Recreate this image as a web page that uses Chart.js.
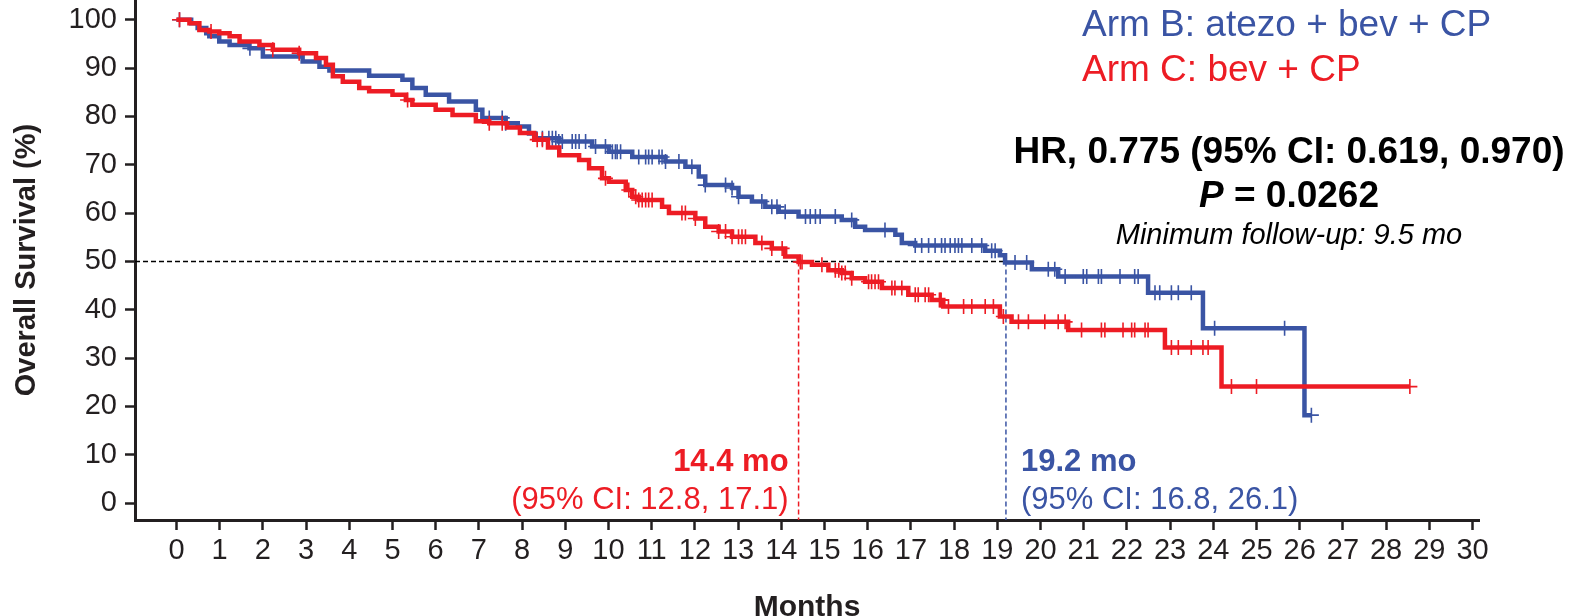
<!DOCTYPE html>
<html>
<head>
<meta charset="utf-8">
<script src="https://cdn.jsdelivr.net/npm/chart.js@4.4.0/dist/chart.umd.min.js"></script>
<style>
  html, body { margin: 0; padding: 0; background: #fff; }
  #wrap { width: 1570px; height: 616px; position: relative; }
</style>
</head>
<body>
<div id="wrap"><canvas id="chart"></canvas></div>
<script>
// Arm B: atezo + bev + CP -- event times (months) and survival (%) after each drop
const armBTimes = [0, 0.34, 0.49, 0.69, 0.76, 0.99, 1.23, 1.69, 2.0, 2.92, 3.31, 3.54, 4.46, 5.23, 5.46, 5.77, 6.31, 6.93, 7.08, 7.62, 7.9, 8.16, 8.31, 8.85, 9.62, 10.01, 10.55, 11.32, 11.78, 12.09, 12.24, 12.86, 13.01, 13.32, 13.63, 13.94, 14.4, 15.4, 15.71, 15.94, 16.64, 16.79, 17.1, 18.72, 19.06, 19.18, 19.8, 20.41, 22.49, 23.76, 26.11];
const armBSurv = [100, 99.3, 98.3, 97.2, 96.6, 95.5, 94.8, 94.1, 92.4, 91.4, 90.3, 89.5, 88.4, 87.6, 85.9, 84.5, 83.1, 81.4, 79.7, 78.6, 77.9, 76.5, 75.5, 74.8, 73.8, 72.7, 71.6, 70.7, 69.6, 67.6, 65.8, 65.2, 63.4, 62.4, 61.3, 60.3, 59.3, 58.6, 57.2, 56.5, 55.5, 53.8, 53.3, 52.2, 51.3, 49.8, 48.4, 46.9, 43.5, 36.2, 18.2];
const armBCensor = [0.07, 1.7, 7.24, 7.54, 7.62, 8.47, 8.62, 8.7, 8.78, 8.85, 8.93, 9.16, 9.24, 9.32, 9.47, 9.7, 9.93, 10.09, 10.16, 10.2, 10.28, 10.7, 10.86, 10.93, 11.01, 11.17, 11.24, 11.32, 11.63, 11.93, 12.24, 12.71, 12.86, 13.01, 13.55, 13.78, 13.9, 14.09, 14.56, 14.67, 14.79, 14.9, 15.25, 15.63, 16.4, 17.1, 17.25, 17.41, 17.56, 17.71, 17.79, 17.91, 18.02, 18.1, 18.18, 18.41, 18.64, 18.87, 18.95, 19.41, 19.68, 20.18, 20.33, 20.57, 20.99, 21.07, 21.34, 21.41, 21.84, 22.18, 22.26, 22.65, 22.76, 23.03, 23.19, 23.49, 24.03, 25.65, 26.27];

// Arm C: bev + CP
const armCTimes = [0, 0.3, 0.53, 0.76, 0.99, 1.23, 1.46, 1.92, 2.23, 2.84, 3.23, 3.46, 3.62, 3.85, 4.23, 4.46, 5.0, 5.31, 5.46, 6.0, 6.39, 6.93, 7.24, 7.65, 7.95, 8.28, 8.6, 8.86, 9.32, 9.55, 9.85, 10.01, 10.4, 10.55, 10.7, 11.24, 11.4, 12.01, 12.24, 12.55, 12.86, 13.4, 13.78, 14.09, 14.4, 14.71, 15.09, 15.4, 15.63, 15.94, 16.33, 16.94, 17.48, 17.75, 19.06, 19.33, 20.64, 22.88, 24.19];
const armCSurv = [100, 99.3, 97.9, 97.6, 97.2, 96.6, 95.5, 94.8, 93.8, 93.1, 92.1, 90.7, 88.3, 87.2, 85.9, 85.2, 84.5, 83.4, 82.4, 81.4, 80.3, 79.0, 78.6, 77.7, 76.6, 75.2, 73.6, 72.0, 71.0, 69.3, 67.2, 66.5, 64.8, 63.4, 62.7, 61.3, 60.0, 58.9, 57.2, 56.2, 55.1, 53.8, 52.7, 51.0, 49.9, 49.3, 48.2, 47.6, 46.5, 45.8, 44.5, 43.1, 42.0, 40.7, 38.6, 37.5, 35.8, 32.2, 24.1];
const armCCensor = [0.07, 0.8, 2.23, 2.84, 5.35, 7.24, 7.54, 8.35, 8.47, 9.93, 10.47, 10.63, 10.7, 10.78, 10.86, 10.93, 11.01, 11.7, 11.78, 12.01, 12.55, 12.71, 12.86, 13.01, 13.09, 13.17, 13.55, 13.78, 14.02, 14.44, 14.48, 14.94, 15.25, 15.33, 15.4, 15.48, 15.63, 16.02, 16.09, 16.17, 16.25, 16.56, 16.63, 16.79, 17.1, 17.17, 17.33, 17.41, 17.66, 17.68, 17.7, 17.87, 18.22, 18.41, 18.72, 18.91, 19.14, 19.49, 19.72, 20.1, 20.41, 20.57, 20.95, 21.41, 21.49, 21.91, 22.11, 22.18, 22.42, 22.49, 23.03, 23.19, 23.49, 23.76, 23.88, 24.42, 25.0, 28.55];

const medianB = 19.2;
const medianC = 14.4;
const ciB = '(95% CI: 16.8, 26.1)';
const ciC = '(95% CI: 12.8, 17.1)';
const hrText = 'HR, 0.775 (95% CI: 0.619, 0.970)';
const pValue = '0.0262';
const followUp = 'Minimum follow-up: 9.5 mo';
const armBLabel = 'Arm B: atezo + bev + CP';
const armCLabel = 'Arm C: bev + CP';

const BLUE = '#3a54a4';
const RED = '#ed1c24';
const INK = '#231f20';
const FAMILY = "'Liberation Sans', Arial, sans-serif";
const X_MIN = -0.96, X_MAX = 30.15, Y_MIN = -3.5, Y_MAX = 104.1;

Chart.defaults.font.family = FAMILY;
Chart.defaults.color = INK;

// survival value of a step curve at time t
function survivalAt(times, surv, t) {
  let v = surv[0];
  for (let i = 0; i < times.length; i++) {
    if (times[i] <= t) v = surv[i];
  }
  return v;
}

function stepPoints(times, surv, censor) {
  const pts = times.map((t, i) => ({x: t, y: surv[i]}));
  const last = censor[censor.length - 1];
  if (last > times[times.length - 1]) pts.push({x: last, y: surv[surv.length - 1]});
  return pts;
}

function censorPoints(times, surv, censor) {
  return censor.map(t => ({x: t, y: survivalAt(times, surv, t)}));
}

const curveStyle = (color) => ({
  showLine: true,
  stepped: 'before',
  borderColor: color,
  borderWidth: 4.5,
  pointRadius: 0,
  fill: false
});

const censorStyle = (color) => ({
  showLine: false,
  pointStyle: 'cross',
  pointRadius: 7.5,
  pointBorderWidth: 1.6,
  pointBorderColor: color,
  pointBackgroundColor: color
});

const dashStyle = (color) => ({
  showLine: true,
  borderColor: color,
  borderWidth: 1.5,
  borderDash: [5, 3],
  pointRadius: 0,
  fill: false
});

const textPlugin = {
  id: 'kmText',
  afterDraw(chart) {
    const {ctx, scales: {x}} = chart;
    ctx.save();
    ctx.textBaseline = 'alphabetic';

    // arm labels
    ctx.textAlign = 'left';
    ctx.font = `37px ${FAMILY}`;
    ctx.fillStyle = BLUE;
    ctx.fillText(armBLabel, 1082, 36);
    ctx.fillStyle = RED;
    ctx.fillText(armCLabel, 1082, 81);

    // HR / P block, centred on the HR line
    const cx = 1289;
    ctx.fillStyle = '#000';
    ctx.textAlign = 'center';
    ctx.font = `bold 37px ${FAMILY}`;
    ctx.fillText(hrText, cx, 163);

    ctx.textAlign = 'left';
    const pPart = 'P';
    const rest = ' = ' + pValue;
    ctx.font = `italic bold 37px ${FAMILY}`;
    const wP = ctx.measureText(pPart).width;
    ctx.font = `bold 37px ${FAMILY}`;
    const wR = ctx.measureText(rest).width;
    const pStart = cx - (wP + wR) / 2;
    ctx.font = `italic bold 37px ${FAMILY}`;
    ctx.fillText(pPart, pStart, 207);
    ctx.font = `bold 37px ${FAMILY}`;
    ctx.fillText(rest, pStart + wP, 207);

    ctx.textAlign = 'center';
    ctx.font = `italic 29px ${FAMILY}`;
    ctx.fillText(followUp, cx, 244);

    // medians
    const xc = x.getPixelForValue(medianC);
    const xb = x.getPixelForValue(medianB);
    ctx.fillStyle = RED;
    ctx.textAlign = 'right';
    ctx.font = `bold 31px ${FAMILY}`;
    ctx.fillText(medianC + ' mo', xc - 10, 471);
    ctx.font = `31px ${FAMILY}`;
    ctx.fillText(ciC, xc - 10, 509);

    ctx.fillStyle = BLUE;
    ctx.textAlign = 'left';
    ctx.font = `bold 31px ${FAMILY}`;
    ctx.fillText(medianB + ' mo', xb + 15, 471);
    ctx.font = `31px ${FAMILY}`;
    ctx.fillText(ciB, xb + 15, 509);

    ctx.restore();
  }
};

const datasets = [
  Object.assign({label: 'Arm C censored', data: censorPoints(armCTimes, armCSurv, armCCensor), order: 1}, censorStyle(RED)),
  Object.assign({label: 'Arm C', data: stepPoints(armCTimes, armCSurv, armCCensor), order: 2}, curveStyle(RED)),
  Object.assign({label: 'Arm B censored', data: censorPoints(armBTimes, armBSurv, armBCensor), order: 3}, censorStyle(BLUE)),
  Object.assign({label: 'Arm B', data: stepPoints(armBTimes, armBSurv, armBCensor), order: 4}, curveStyle(BLUE)),
  Object.assign({label: '50%', data: [{x: X_MIN, y: 50}, {x: medianB, y: 50}], order: 5}, dashStyle('#000')),
  Object.assign({label: 'median C', data: [{x: medianC, y: 50}, {x: medianC, y: Y_MIN}], order: 5}, dashStyle(RED)),
  Object.assign({label: 'median B', data: [{x: medianB, y: 50}, {x: medianB, y: Y_MIN}], order: 5}, dashStyle(BLUE))
];

const ctx = document.getElementById('chart').getContext('2d');
window.myChart = new Chart(ctx, {
  type: 'scatter',
  data: {datasets},
  options: {
    responsive: true,
    maintainAspectRatio: false,
    devicePixelRatio: 1,
    animation: false,
    layout: {autoPadding: false, padding: {left: 0, right: 91, top: 0, bottom: 0}},
    plugins: {legend: {display: false}, tooltip: {enabled: false}},
    scales: {
      x: {
        type: 'linear',
        min: X_MIN,
        max: X_MAX,
        afterFit: (s) => { s.height = 96; s.paddingLeft = 0; s.paddingRight = 0; },
        ticks: {stepSize: 1, includeBounds: false, autoSkip: false, maxRotation: 0, color: INK, font: {size: 29}, padding: 4},
        grid: {drawOnChartArea: false, drawTicks: true, tickLength: 10, tickWidth: 2.5, tickColor: INK},
        border: {display: true, color: INK, width: 3},
        title: {display: true, text: 'Months', color: INK, font: {size: 30, weight: 'bold', lineHeight: 1}, padding: {top: 0, bottom: -7}}
      },
      y: {
        min: Y_MIN,
        max: Y_MAX,
        afterFit: (s) => { s.width = 135; s.paddingTop = 0; s.paddingBottom = 0; },
        ticks: {stepSize: 10, includeBounds: false, color: INK, font: {size: 29}, padding: 8},
        grid: {drawOnChartArea: false, drawTicks: true, tickLength: 10, tickWidth: 2.5, tickColor: INK},
        border: {display: true, color: INK, width: 3},
        title: {display: true, text: 'Overall Survival (%)', color: INK, font: {size: 29, weight: 'bold', lineHeight: 1.2}, padding: {top: 10, bottom: 0}}
      }
    }
  },
  plugins: [textPlugin]
});
</script>
</body>
</html>
